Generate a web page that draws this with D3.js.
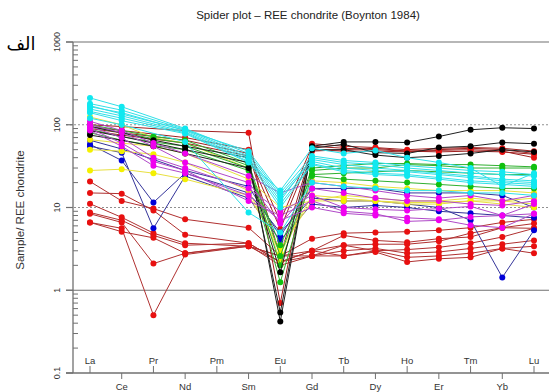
<!DOCTYPE html>
<html>
<head>
<meta charset="utf-8">
<script src="https://cdn.jsdelivr.net/npm/d3@7"></script>
<style>
  body { margin: 0; background: #fff; }
  svg { font-family: "Liberation Sans", Arial, sans-serif; }
</style>
</head>
<body>
<div class="chart-container1"></div>
<script>
// REE order on the x axis (Pm has no analyses)
const elements = ["La", "Ce", "Pr", "Nd", "Pm", "Sm", "Eu", "Gd", "Tb", "Dy", "Ho", "Er", "Tm", "Yb", "Lu"];
const decades = [0.1, 1, 10, 100, 1000];
const decadeLabels = ["0.1", "1", "10", "100", "1000"];

// sample / chondrite values, one row per sample
const redLowSamples = [
  [20.6, 12, 9.7, 7.2, null, 5.7, 2.6, 4.2, 4.9, 5.0, 5.1, 5.3, 5.7, 6.6, 7.2],
  [15, 14.7, 9.2, 4.7, null, 3.7, 2.2, 3.0, 4.6, 4.0, 3.8, 4.2, 4.4, 5.7, 6.4],
  [11.1, 7.6, 4.9, 3.7, null, 3.4, 2.6, 2.6, 3.5, 3.6, 3.6, 3.9, 4.9, 5.7, 5.6],
  [8.7, 7.0, 4.6, 3.5, null, 3.7, 2.2, 3.0, 3.5, 3.0, 3.1, 3.3, 3.7, 4.4, 5.6],
  [8.4, 6.6, 2.1, 2.8, null, 3.4, 2.6, 3.0, 2.6, 3.0, 2.5, 2.6, 2.8, 3.2, 3.4],
  [6.6, 5.6, 0.5, 2.7, null, 3.4, 2.2, 2.6, 2.6, 2.9, 2.2, 2.4, 2.5, 3.2, 2.8],
  [6.6, 5.1, 4.3, 2.8, null, 3.5, 2.0, 2.6, 3.0, 3.2, 2.8, 2.9, 3.2, 3.6, 4.0]
];
const redHighSamples = [
  [100, 95, null, 85, null, 80, 0.7, 59, 55, 53, 50, 52, 53, 52, 48],
  [95, 85, null, 70, null, 50, 6.8, 55, 52, 50, 48, 50, 52, 50, 45],
  [90, 80, null, 65, null, 45, 2.6, 50, 48, 48, 47, 49, 50, 48, 40],
  [85, 75, null, 60, null, 42, 5.5, 48, 50, 52, 48, 47, 48, 47, 44]
];
const blueSamples = [
  [65, 51, 38, 28, null, 18, 4.5, 17, 17, 17, 15, 15, 15, 14, 10],
  [58, 37, 11.5, 26, null, 15, 5, 13, 12, 12, 11, 10, 7, 1.43, 5.3],
  [55, 46, 5.6, 24, null, 13, 4, 11, 10, 10.6, 10, 9, 8.5, 8, 7.5]
];
const magentaSamples = [
  [110, 85, 60, 45, null, 24, 15, 20, 18, 16, 14, 13, 14, 12, 14],
  [100, 80, 55, 35, null, 20, 6.4, 17, 15, 13, 12, 12, 11, 10.6, 12],
  [95, 70, 40, 30, null, 17, 9, 14, 10, 9.5, 9.2, 9.7, 10.3, 8, 11],
  [90, 60, 36, 28, null, 12, 8, 12, 9, 8.4, 6.8, 7, 7.7, 8, 8.4],
  [85, 55, 32, 26, null, 14, 7, 10, 8.5, 8, 7.5, 7.2, 6.1, 5.7, 8.4]
];
const yellowSamples = [
  [28, 29, 26, 22, null, 14, 3.2, 12, 12, 12, 11.5, 11.5, 12, 12, 13],
  [124, 100, 70, 60, null, 30, 2.2, 21, 20, 18, 17, 16, 16, 16, 15],
  [66, 60, 55, 45, null, 22, 10, 12, 14, 13, 12, 12, 13, 12, 11],
  [50, 48, 44, 35, null, 16, 2.8, 14, 13, 12, 11, 11, 12, 11, 10]
];
const greenSamples = [
  [100, 85, 72, 65, null, 34, 2.6, 30, 32, 34, 34, 33, 33, 32, 31],
  [95, 80, 68, 60, null, 32, 2.0, 28, 30, 30, 33, 32, 30, 30, 30],
  [88, 72, 62, 55, null, 30, 1.25, 25, 26, 27, 28, 27, 26, 25, 25],
  [80, 65, 56, 50, null, 28, 3.5, 24, 22, 21, 20, 19, 18, 17, 17]
];
const blackSamples = [
  [95, 80, 65, 55, null, 40, 0.42, 55, 62, 62, 61, 72, 87, 92, 90],
  [85, 72, 60, 50, null, 35, 0.54, 52, 58, 46, 45, 53, 55, 61, 59],
  [75, 65, 55, 45, null, 30, 1.65, 50, 50, 43, 40, 42, 45, 50, 47]
];
const cyanSamples = [
  [211, 165, null, 90, null, 45, 14, 38, 33, 30, 28, 26, 24, 22, 21],
  [180, 150, null, 88, null, 42, 13, 36, 30, 28, 27, 25, 23, 21, 20],
  [165, 140, null, 85, null, 40, 12, 40, 35, 33, 30, 28, 26, 25, 24],
  [155, 128, null, 82, null, 38, 11, 34, 28, 26, 25, 23, 21, 20, 19],
  [145, 120, null, 80, null, 36, 10, 33, 27, 25, 24, 22, 20, 19, 18],
  [140, 112, null, 78, null, 35, 16, 52, 45, 49, 40, 35, 30, 18, 26],
  [170, 135, null, 86, null, 48, 15, 42, 37, 35, 32, 30, 28, 27, 25],
  [120, 100, null, 62, null, 8.7, 5, 20, 18, 17, 16, 16, 15, 15, 14]
];

const groups = [
  { rows: redLowSamples, line: "#b03030", dot: "#e81010" },
  { rows: redHighSamples, line: "#a02020", dot: "#e81010" },
  { rows: blueSamples, line: "#34349a", dot: "#0000d8" },
  { rows: yellowSamples, line: "#e8e040", dot: "#f4f000" },
  { rows: greenSamples, line: "#30b030", dot: "#10c010" },
  { rows: blackSamples, line: "#202020", dot: "#000000" },
  { rows: magentaSamples, line: "#b048c8", dot: "#f000f0" },
  { rows: cyanSamples, line: "#30e0e8", dot: "#10e8f0" }
];

const width = 549, height = 392;
const svg = d3.select(".chart-container1").append("svg")
  .attr("width", width)
  .attr("height", height);

const x = d3.scalePoint().domain(elements).range([90, 534]);
const y = d3.scaleLog().domain([0.1, 1000]).range([373, 42]);
const left = 73, right = 549, axisColor = "#707070";

// decade grid lines
svg.selectAll(".grid")
  .data(decades.slice(1))
  .join("line")
  .attr("class", "grid")
  .attr("x1", left - 7).attr("x2", right)
  .attr("y1", d => y(d)).attr("y2", d => y(d))
  .attr("stroke", d => (d === 10 || d === 100) ? "#909090" : axisColor)
  .attr("stroke-width", d => (d === 10 || d === 100) ? 1 : 1.2)
  .attr("stroke-dasharray", d => (d === 10 || d === 100) ? "2,2" : null);

// minor ticks (inside)
let minors = [];
decades.slice(0, 4).forEach(d => { for (let k = 2; k <= 9; k++) minors.push(d * k); });
svg.selectAll(".minor")
  .data(minors)
  .join("line")
  .attr("class", "minor")
  .attr("x1", left).attr("x2", left + 5)
  .attr("y1", d => y(d)).attr("y2", d => y(d))
  .attr("stroke", axisColor);

svg.selectAll(".major")
  .data(decades)
  .join("line")
  .attr("class", "major")
  .attr("x1", left - 7).attr("x2", left)
  .attr("y1", d => y(d)).attr("y2", d => y(d))
  .attr("stroke", axisColor).attr("stroke-width", 1.2);

svg.selectAll(".ylab")
  .data(decades)
  .join("text")
  .attr("class", "ylab")
  .attr("transform", d => `translate(60,${y(d)}) rotate(-90)`)
  .attr("text-anchor", "middle")
  .attr("font-size", 9)
  .attr("fill", "#333")
  .text((d, i) => decadeLabels[i]);

// axes
svg.append("line")
  .attr("x1", left).attr("x2", left)
  .attr("y1", y(1000)).attr("y2", y(0.1))
  .attr("stroke", axisColor).attr("stroke-width", 1.3);
svg.append("line")
  .attr("x1", left - 7).attr("x2", right)
  .attr("y1", y(0.1)).attr("y2", y(0.1))
  .attr("stroke", axisColor).attr("stroke-width", 1.3);

// element ticks, alternating up / down
svg.selectAll(".xtick")
  .data(elements)
  .join("line")
  .attr("class", "xtick")
  .attr("x1", d => x(d)).attr("x2", d => x(d))
  .attr("y1", y(0.1))
  .attr("y2", (d, i) => i % 2 === 0 ? y(0.1) - 7 : y(0.1) + 6)
  .attr("stroke", axisColor);

svg.selectAll(".xlab")
  .data(elements)
  .join("text")
  .attr("class", "xlab")
  .attr("x", d => x(d))
  .attr("y", (d, i) => i % 2 === 0 ? y(0.1) - 9 : y(0.1) + 17)
  .attr("text-anchor", "middle")
  .attr("font-size", 9.5)
  .attr("fill", "#333")
  .text(d => d);

// sample lines and points
const line = d3.line().x(p => x(p[0])).y(p => y(p[1]));

groups.forEach(g => {
  const pts = g.rows.map(r => r.map((v, i) => [elements[i], v]).filter(p => p[1] != null));
  const grp = svg.append("g");
  grp.selectAll("path")
    .data(pts)
    .join("path")
    .attr("d", line)
    .attr("fill", "none")
    .attr("stroke", g.line)
    .attr("stroke-width", 1);
  grp.selectAll("circle")
    .data(pts.flat())
    .join("circle")
    .attr("cx", p => x(p[0]))
    .attr("cy", p => y(p[1]))
    .attr("r", 3)
    .attr("fill", g.dot);
});

// titles
svg.append("text")
  .attr("x", 308).attr("y", 19)
  .attr("text-anchor", "middle")
  .attr("font-size", 11.5)
  .attr("fill", "#222")
  .text("Spider plot \u2013  REE chondrite (Boynton 1984)");

svg.append("text")
  .attr("x", 21).attr("y", 50)
  .attr("text-anchor", "middle")
  .attr("font-size", 18)
  .attr("font-family", "DejaVu Sans")
  .attr("fill", "#000")
  .text("الف");

svg.append("text")
  .attr("transform", "translate(24,210) rotate(-90)")
  .attr("text-anchor", "middle")
  .attr("font-size", 11.5)
  .attr("fill", "#333")
  .text("Sample/ REE chondrite");
</script>
</body>
</html>
